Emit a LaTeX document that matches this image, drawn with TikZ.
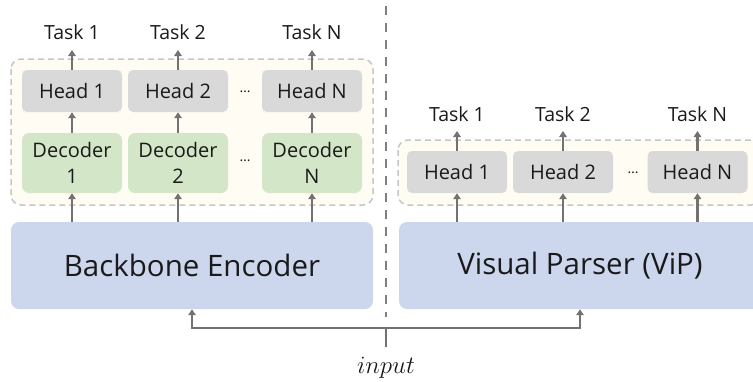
\documentclass[tikz,border=0pt]{standalone}
\usepackage{fontspec}
\setmainfont{Open Sans}
\usetikzlibrary{arrows.meta}
\definecolor{headgray}{HTML}{D9D9D9}
\definecolor{decgreen}{HTML}{D3E6C8}
\definecolor{encblue}{HTML}{CCD7EE}
\definecolor{groupfill}{HTML}{FFFCF3}
\definecolor{groupline}{HTML}{C6C6C6}
\definecolor{arrowgray}{HTML}{767171}
\definecolor{splitgray}{HTML}{808080}
\definecolor{ink}{HTML}{1A1A1A}
\tikzset{
  headbox/.style={fill=headgray, rounded corners=5pt, minimum width=100pt, minimum height=42pt,
    inner sep=0pt, text=ink, font=\fontsize{20}{26}\selectfont},
  decbox/.style={fill=decgreen, rounded corners=7pt, minimum width=100pt, minimum height=60pt,
    inner sep=0pt, align=center, text=ink, font=\fontsize{20}{26}\selectfont},
  bigbox/.style={fill=encblue, rounded corners=8pt, minimum width=362pt, minimum height=87pt,
    inner sep=0pt, text=ink, font=\fontsize{29.5}{34}\selectfont},
  group/.style={draw=groupline, fill=groupfill, line width=1.5pt, dash pattern=on 6pt off 4pt,
    rounded corners=10pt},
  tasklabel/.style={anchor=south, inner xsep=0pt, text=ink, font=\fontsize{19.5}{23}\selectfont},
  dots/.style={inner sep=0pt, text=ink, font=\fontsize{14}{16}\selectfont},
  arr/.style={draw=arrowgray, line width=2.2pt, -{Triangle[length=6pt,width=7.5pt]}},
  wire/.style={draw=arrowgray, line width=2.2pt}
}
\begin{document}
\begin{tikzpicture}[x=1pt,y=-1pt]
\useasboundingbox (0,0) rectangle (753,381);
\clip (0,0) rectangle (753,381);

% ---------- left: backbone encoder with per-task decoders ----------
\draw[group] (11,59) rectangle (373,205);
\node[headbox] (lh1) at (72,91) {Head 1};
\node[headbox] (lh2) at (178,91) {Head 2};
\node[headbox] (lhn) at (312,91) {Head N};
\node[decbox] (ld1) at (72,163) {Decoder\\1};
\node[decbox] (ld2) at (178,163) {Decoder\\2};
\node[decbox] (ldn) at (312,163) {Decoder\\N};
\node[dots] (ldotsh) at (245,92) {…};
\node[dots] (ldotsd) at (245,161) {…};
\node[bigbox] (enc) at (192,265.5) {Backbone Encoder};

\node[tasklabel, inner ysep=10pt] (lt1) at (72,50) {Task 1};
\node[tasklabel, inner ysep=10pt] (lt2) at (178,50) {Task 2};
\node[tasklabel, inner ysep=10pt] (ltn) at (312,50) {Task N};

\foreach \i in {1,2,n}{
  \draw[arr] (enc.north -| ld\i) -- (ld\i.south);
  \draw[arr] (ld\i.north) -- (lh\i.south);
  \draw[arr] (lh\i.north) -- (lt\i.south);
}

% ---------- right: visual parser with light heads ----------
\draw[group] (398,140) rectangle (761,205);
\node[headbox] (rh1) at (457,172) {Head 1};
\node[headbox] (rh2) at (563,172) {Head 2};
\node[headbox] (rhn) at (697.5,172) {Head N};
\node[dots] (rdots) at (633,173) {…};
\node[bigbox] (vip) at (580,265.5) {Visual Parser (ViP)};

\node[tasklabel, inner ysep=9pt] (rt1) at (457,131) {Task 1};
\node[tasklabel, inner ysep=9pt] (rt2) at (563,131) {Task 2};
\node[tasklabel, inner ysep=9pt] (rtn) at (697.5,131) {Task N};

\foreach \i in {1,2,n}{
  \draw[arr] (vip.north -| rh\i) -- (rh\i.south);
  \draw[arr] (rh\i.north) -- (rt\i.south);
}

% ---------- separator and shared input ----------
\coordinate (sepTop) at (386,6);
\coordinate (sepBot) at (386,317);
\draw[splitgray, line width=2.6pt, dash pattern=on 9pt off 8pt] (sepTop) -- (sepBot);

\node[anchor=base, inner sep=0pt, text=ink, font=\fontsize{28}{32}\selectfont] (inp) at (386,373) {$input$};
\coordinate (stem) at (386,347);
\coordinate (fork) at (386,328);
\draw[wire] (stem) -- (fork);
\draw[arr] (fork) -| (enc.south);
\draw[arr] (fork) -| (vip.south);
\end{tikzpicture}
\end{document}
